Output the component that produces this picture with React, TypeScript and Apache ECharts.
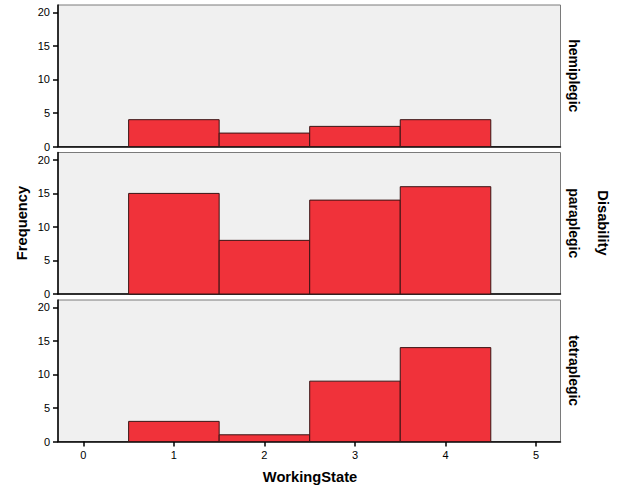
import React, { useEffect, useRef } from "react";
import * as echarts from "echarts";

const workingStates = [1, 2, 3, 4];
const panels = ["hemiplegic", "paraplegic", "tetraplegic"];
const hemiplegic = [4, 2, 3, 4];
const paraplegic = [15, 8, 14, 16];
const tetraplegic = [3, 1, 9, 14];
const panelValues = [hemiplegic, paraplegic, tetraplegic];
const yTicks = [0, 5, 10, 15, 20];
const xTicks = [0, 1, 2, 3, 4, 5];

const FONT = "Arial, 'Liberation Sans', sans-serif";

export default function App() {
  const ref = useRef<HTMLDivElement>(null);
  useEffect(() => {
    if (!ref.current) return;
    const chart = echarts.init(ref.current, undefined, { renderer: "svg" });
    const tops = [5, 152.5, 300];
    const h = 141.5;
    const grids = tops.map((t) => ({
      left: 58,
      width: 502.5,
      top: t,
      height: h,
      show: true,
      backgroundColor: "#f0f0f0",
      borderColor: "#7a7a7a",
      borderWidth: 1,
    }));
    const xAxes = tops.map((_, i) => ({
      type: "value",
      gridIndex: i,
      min: -0.28,
      max: 5.27,
      axisLine: { show: true, onZero: false, lineStyle: { color: "#000", width: 1.5 } },
      axisTick: {
        show: i === 2,
        inside: false,
        length: 5,
        customValues: xTicks,
        lineStyle: { color: "#000", width: 1.5 },
      },
      axisLabel: {
        show: i === 2,
        customValues: xTicks,
        color: "#000",
        fontFamily: FONT,
        fontSize: 11,
        margin: 8,
      },
      splitLine: { show: false },
    }));
    const yAxes = tops.map((_, i) => ({
      type: "value",
      gridIndex: i,
      min: 0,
      max: 21.1,
      axisLine: { show: true, onZero: false, lineStyle: { color: "#000", width: 1.5 } },
      axisTick: {
        show: true,
        inside: false,
        length: 5,
        customValues: yTicks,
        lineStyle: { color: "#000", width: 1.5 },
      },
      axisLabel: {
        show: true,
        customValues: yTicks,
        color: "#000",
        fontFamily: FONT,
        fontSize: 11,
        margin: 8,
      },
      splitLine: { show: false },
    }));
    const series = panelValues.map((vals, i) => ({
      type: "custom",
      xAxisIndex: i,
      yAxisIndex: i,
      data: workingStates.map((w, j) => [w, vals[j]]),
      renderItem: (params: any, api: any) => {
        const x = api.value(0);
        const y = api.value(1);
        const p0 = api.coord([x - 0.5, y]);
        const p1 = api.coord([x + 0.5, 0]);
        return {
          type: "rect",
          shape: { x: p0[0], y: p0[1], width: p1[0] - p0[0], height: p1[1] - p0[1] },
          style: { fill: "#f0323a", stroke: "#3a1414", lineWidth: 1 },
        };
      },
    }));
    const graphic: any[] = panels.map((name, i) => ({
      type: "text",
      x: 574,
      y: tops[i] + h / 2,
      rotation: -Math.PI / 2,
      style: {
        text: name,
        fill: "#000",
        font: `bold 14px ${FONT}`,
        align: "center",
        verticalAlign: "middle",
      },
    }));
    graphic.push(
      {
        type: "text",
        x: 22,
        y: 223,
        rotation: Math.PI / 2,
        style: { text: "Frequency", fill: "#000", font: `bold 14.7px ${FONT}`, align: "center", verticalAlign: "middle" },
      },
      {
        type: "text",
        x: 603,
        y: 223,
        rotation: -Math.PI / 2,
        style: { text: "Disability", fill: "#000", font: `bold 14.7px ${FONT}`, align: "center", verticalAlign: "middle" },
      },
      {
        type: "text",
        x: 310,
        y: 477,
        style: { text: "WorkingState", fill: "#000", font: `bold 14.7px ${FONT}`, align: "center", verticalAlign: "middle" },
      }
    );
    chart.setOption({
      animation: false,
      backgroundColor: "#fff",
      grid: grids,
      xAxis: xAxes,
      yAxis: yAxes,
      series,
      graphic,
    });
    return () => chart.dispose();
  }, []);
  return <div ref={ref} style={{ width: 626, height: 501, position: "absolute", left: 0, top: 0 }} />;
}
